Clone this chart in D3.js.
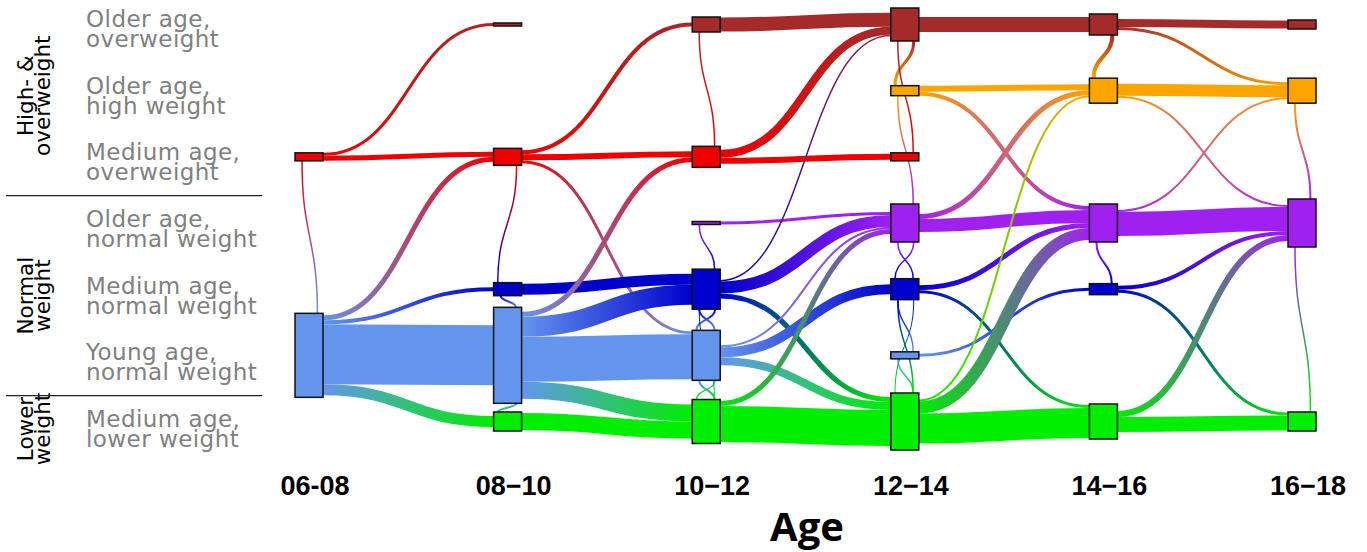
<!DOCTYPE html>
<html><head><meta charset="utf-8">
<script src="https://cdn.jsdelivr.net/npm/d3@7"></script>
<style>html,body{margin:0;padding:0;background:#fff;}svg{display:block;}</style>
</head><body>
<svg id="chart" width="1367" height="552"></svg>
<script>
// ---------- DATA ----------
const columns = ["06-08", "08\u221210", "10\u221212", "12\u221214", "14\u221216", "16\u221218"];
const states = ["OO", "OH", "MO", "ON", "MN", "YN", "ML"];
const stateLabels = [
  ["Older age,", "overweight"],
  ["Older age,", "high weight"],
  ["Medium age,", "overweight"],
  ["Older age,", "normal weight"],
  ["Medium age,", "normal weight"],
  ["Young age,", "normal weight"],
  ["Medium age,", "lower weight"]
];
const stateColors = ["#A52A2A", "#FFA500", "#EE0000", "#A020F0", "#0000CD", "#6495ED", "#00EE00"];
const groupLabels = [["High- &", "overweight"], ["Normal", "weight"], ["Lower", "weight"]];
const groupStates = [["OO", "OH", "MO"], ["ON", "MN", "YN"], ["ML"]];
const axisTitle = "Age";

// node sizes: [column index, state, value]
const nodeValues = [
  [0, "MO", 8], [0, "YN", 84],
  [1, "OO", 3], [1, "MO", 17], [1, "MN", 13], [1, "YN", 96], [1, "ML", 19],
  [2, "OO", 15], [2, "MO", 21], [2, "ON", 3], [2, "MN", 40], [2, "YN", 50], [2, "ML", 44],
  [3, "OO", 33], [3, "OH", 10], [3, "MO", 8], [3, "ON", 38], [3, "MN", 21], [3, "YN", 7], [3, "ML", 57],
  [4, "OO", 21], [4, "OH", 25], [4, "ON", 38], [4, "MN", 11], [4, "ML", 35],
  [5, "OO", 9], [5, "OH", 25], [5, "ON", 48], [5, "ML", 19]
];

// transitions to next age period: [from column index, from state, to state, value]
const flowValues = [
  [0, "MO", "OO", 3], [0, "MO", "MO", 5], [0, "YN", "MO", 5], [0, "YN", "MN", 4], [0, "YN", "YN", 60], [0, "YN", "ML", 11],
  [1, "MO", "OO", 4], [1, "MO", "MO", 6], [1, "MO", "YN", 3], [1, "MN", "MN", 11], [1, "YN", "MO", 5], [1, "YN", "MN", 20],
  [1, "YN", "YN", 45], [1, "YN", "ML", 17], [1, "ML", "ML", 17],
  [2, "OO", "OO", 14], [2, "MO", "OO", 8], [2, "MO", "MO", 6], [2, "ON", "ON", 3], [2, "MN", "OO", 1.5], [2, "MN", "ON", 12],
  [2, "MN", "ML", 5], [2, "YN", "ON", 2], [2, "YN", "MN", 10], [2, "YN", "ML", 8], [2, "ML", "ON", 5], [2, "ML", "ML", 36],
  [3, "OO", "OO", 15], [3, "OH", "OH", 6], [3, "OH", "ON", 4], [3, "ON", "OH", 5], [3, "ON", "ON", 13], [3, "MN", "ON", 5],
  [3, "MN", "ML", 3], [3, "YN", "MN", 3], [3, "ML", "OH", 2], [3, "ML", "ON", 12], [3, "ML", "ML", 30],
  [4, "OO", "OO", 8], [4, "OO", "OH", 3], [4, "OH", "OH", 12], [4, "OH", "ON", 2], [4, "ON", "OH", 2], [4, "ON", "ON", 24],
  [4, "MN", "ON", 4], [4, "MN", "ML", 3], [4, "ML", "ON", 6], [4, "ML", "ML", 15]
];

// transitions within the same age period: [column index, from state, to state, value]
const withinValues = [
  [0, "MO", "YN", 1.5],
  [1, "MN", "MO", 1.5], [1, "MN", "YN", 2], [1, "ML", "YN", 2],
  [2, "OO", "MO", 1.5], [2, "ON", "MN", 1.5], [2, "MN", "YN", 2], [2, "YN", "MN", 2],
  [2, "YN", "ML", 2], [2, "ML", "YN", 1.5], [2, "MN", "ML", 1],
  [3, "OH", "OO", 3], [3, "OO", "MO", 1.5], [3, "OH", "ON", 1.5], [3, "ON", "MN", 1.5], [3, "MN", "ON", 1.5],
  [3, "MN", "YN", 1.5], [3, "YN", "ML", 1.5], [3, "MN", "ML", 1.5], [3, "ML", "MN", 1],
  [4, "OH", "OO", 4], [4, "ON", "MN", 2],
  [5, "OH", "ON", 2], [5, "ON", "ML", 1.5]
];

// ---------- DRAWING ----------
const svg = d3.select("#chart");
const defs = svg.append("defs");
const x = d3.scalePoint().domain(d3.range(columns.length)).range([309, 1302]);
const y = d3.scalePoint().domain(states).range([24.5, 421.5]);
const yLabel = d3.scalePoint().domain(states).range([27, 427]);
const size = d3.scaleLinear().domain([0, 100]).range([0, 100]);
const color = d3.scaleOrdinal().domain(states).range(stateColors);
const nodeW = 28;
const rowIdx = s => states.indexOf(s);

const nodes = nodeValues.map(([c, s, v]) => ({c, s, v}));
const nodeOf = (c, s) => nodes.find(n => n.c === c && n.s === s);
const links = flowValues.map(([c, s, t, v]) => ({c, s, t, v}));

// stack link ends, centred on each node
nodes.forEach(n => {
  const outs = links.filter(l => l.c === n.c && l.s === n.s).sort((a, b) => rowIdx(a.t) - rowIdx(b.t));
  let tot = d3.sum(outs, l => size(l.v));
  let p = y(n.s) - tot / 2;
  outs.forEach(l => { l.y0 = p + size(l.v) / 2; p += size(l.v); });
  const ins = links.filter(l => l.c + 1 === n.c && l.t === n.s).sort((a, b) => rowIdx(a.s) - rowIdx(b.s));
  tot = d3.sum(ins, l => size(l.v));
  p = y(n.s) - tot / 2;
  ins.forEach(l => { l.y1 = p + size(l.v) / 2; p += size(l.v); });
});

const linkH = d3.linkHorizontal();
const gLinks = svg.append("g");
links.forEach((l, i) => {
  const x0 = x(l.c) + nodeW / 2, x1 = x(l.c + 1) - nodeW / 2;
  const gid = "gh" + i;
  const gr = defs.append("linearGradient").attr("id", gid).attr("gradientUnits", "userSpaceOnUse")
    .attr("x1", x0).attr("x2", x1).attr("y1", 0).attr("y2", 0);
  gr.append("stop").attr("offset", "0%").attr("stop-color", color(l.s));
  gr.append("stop").attr("offset", "100%").attr("stop-color", color(l.t));
  gLinks.append("path")
    .attr("d", linkH({source: [x0, l.y0], target: [x1, l.y1]}))
    .attr("fill", "none")
    .attr("stroke", `url(#${gid})`)
    .attr("stroke-width", size(l.v));
});

// within-period transitions
const linkV = d3.linkVertical();
withinValues.forEach(([c, s, t, v], i) => {
  const ns = nodeOf(c, s), nt = nodeOf(c, t);
  const left = x(c) - nodeW / 2;
  const down = rowIdx(t) > rowIdx(s);
  let xs, ys, xt, yt;
  if (down) {
    xs = left + nodeW * 0.25; ys = y(s) + size(ns.v) / 2;
    xt = left + nodeW * 0.8; yt = y(t) - size(nt.v) / 2;
  } else {
    xs = left + nodeW * 0.15; ys = y(s) - size(ns.v) / 2;
    xt = left + nodeW * 0.82; yt = y(t) + size(nt.v) / 2;
  }
  const gid = "gv" + i;
  const gr = defs.append("linearGradient").attr("id", gid).attr("gradientUnits", "userSpaceOnUse")
    .attr("x1", 0).attr("x2", 0).attr("y1", ys).attr("y2", yt);
  gr.append("stop").attr("offset", "0%").attr("stop-color", color(s));
  gr.append("stop").attr("offset", "100%").attr("stop-color", color(t));
  gLinks.append("path")
    .attr("d", linkV({source: [xs, ys], target: [xt, yt]}))
    .attr("fill", "none")
    .attr("stroke", `url(#${gid})`)
    .attr("stroke-width", size(v));
});

// nodes
svg.append("g").selectAll("rect").data(nodes).join("rect")
  .attr("x", d => x(d.c) - nodeW / 2)
  .attr("y", d => y(d.s) - size(d.v) / 2)
  .attr("width", nodeW)
  .attr("height", d => size(d.v))
  .attr("fill", d => color(d.s))
  .attr("stroke", "#111")
  .attr("stroke-width", 1.5);

// state labels
const gl = svg.append("g").attr("font-family", "'DejaVu Sans', Verdana, sans-serif")
  .attr("font-size", 23).attr("letter-spacing", 0.45).attr("fill", "#808080");
states.forEach((s, i) => {
  const t = gl.append("text").attr("x", 86).attr("y", yLabel(s));
  t.append("tspan").attr("x", 86).text(stateLabels[i][0]);
  t.append("tspan").attr("x", 86).attr("dy", 20).text(stateLabels[i][1]);
});

// group labels
const gg = svg.append("g").attr("font-family", "'DejaVu Sans', Verdana, sans-serif")
  .attr("font-size", 21.5).attr("fill", "#000");
groupLabels.forEach((lines, i) => {
  const cy = d3.mean(groupStates[i], s => yLabel(s)) + 2;
  const t = gg.append("text").attr("transform", `translate(33,${cy}) rotate(-90)`).attr("text-anchor", "middle");
  t.append("tspan").attr("x", 0).attr("y", 0).text(lines[0]);
  t.append("tspan").attr("x", 0).attr("y", 17).text(lines[1]);
});

// separators
[["MO", "ON"], ["YN", "ML"]].forEach(([a, b]) => {
  const yy = (yLabel(a) + yLabel(b)) / 2 + 2;
  svg.append("line").attr("x1", 6).attr("x2", 262).attr("y1", yy).attr("y2", yy)
    .attr("stroke", "#222").attr("stroke-width", 1.2);
});

// x axis labels
svg.append("g").selectAll("text").data(columns).join("text")
  .attr("x", (d, i) => x(i) + 6)
  .attr("y", 495)
  .attr("text-anchor", "middle")
  .attr("font-family", "'Liberation Sans', Arial, sans-serif")
  .attr("font-weight", "bold")
  .attr("font-size", 27)
  .text(d => d);

svg.append("text").attr("x", 807).attr("y", 541).attr("text-anchor", "middle")
  .attr("font-family", "'Open Sans', sans-serif").attr("font-weight", "bold")
  .attr("font-size", 40).text(axisTitle);
</script>
</body></html>
